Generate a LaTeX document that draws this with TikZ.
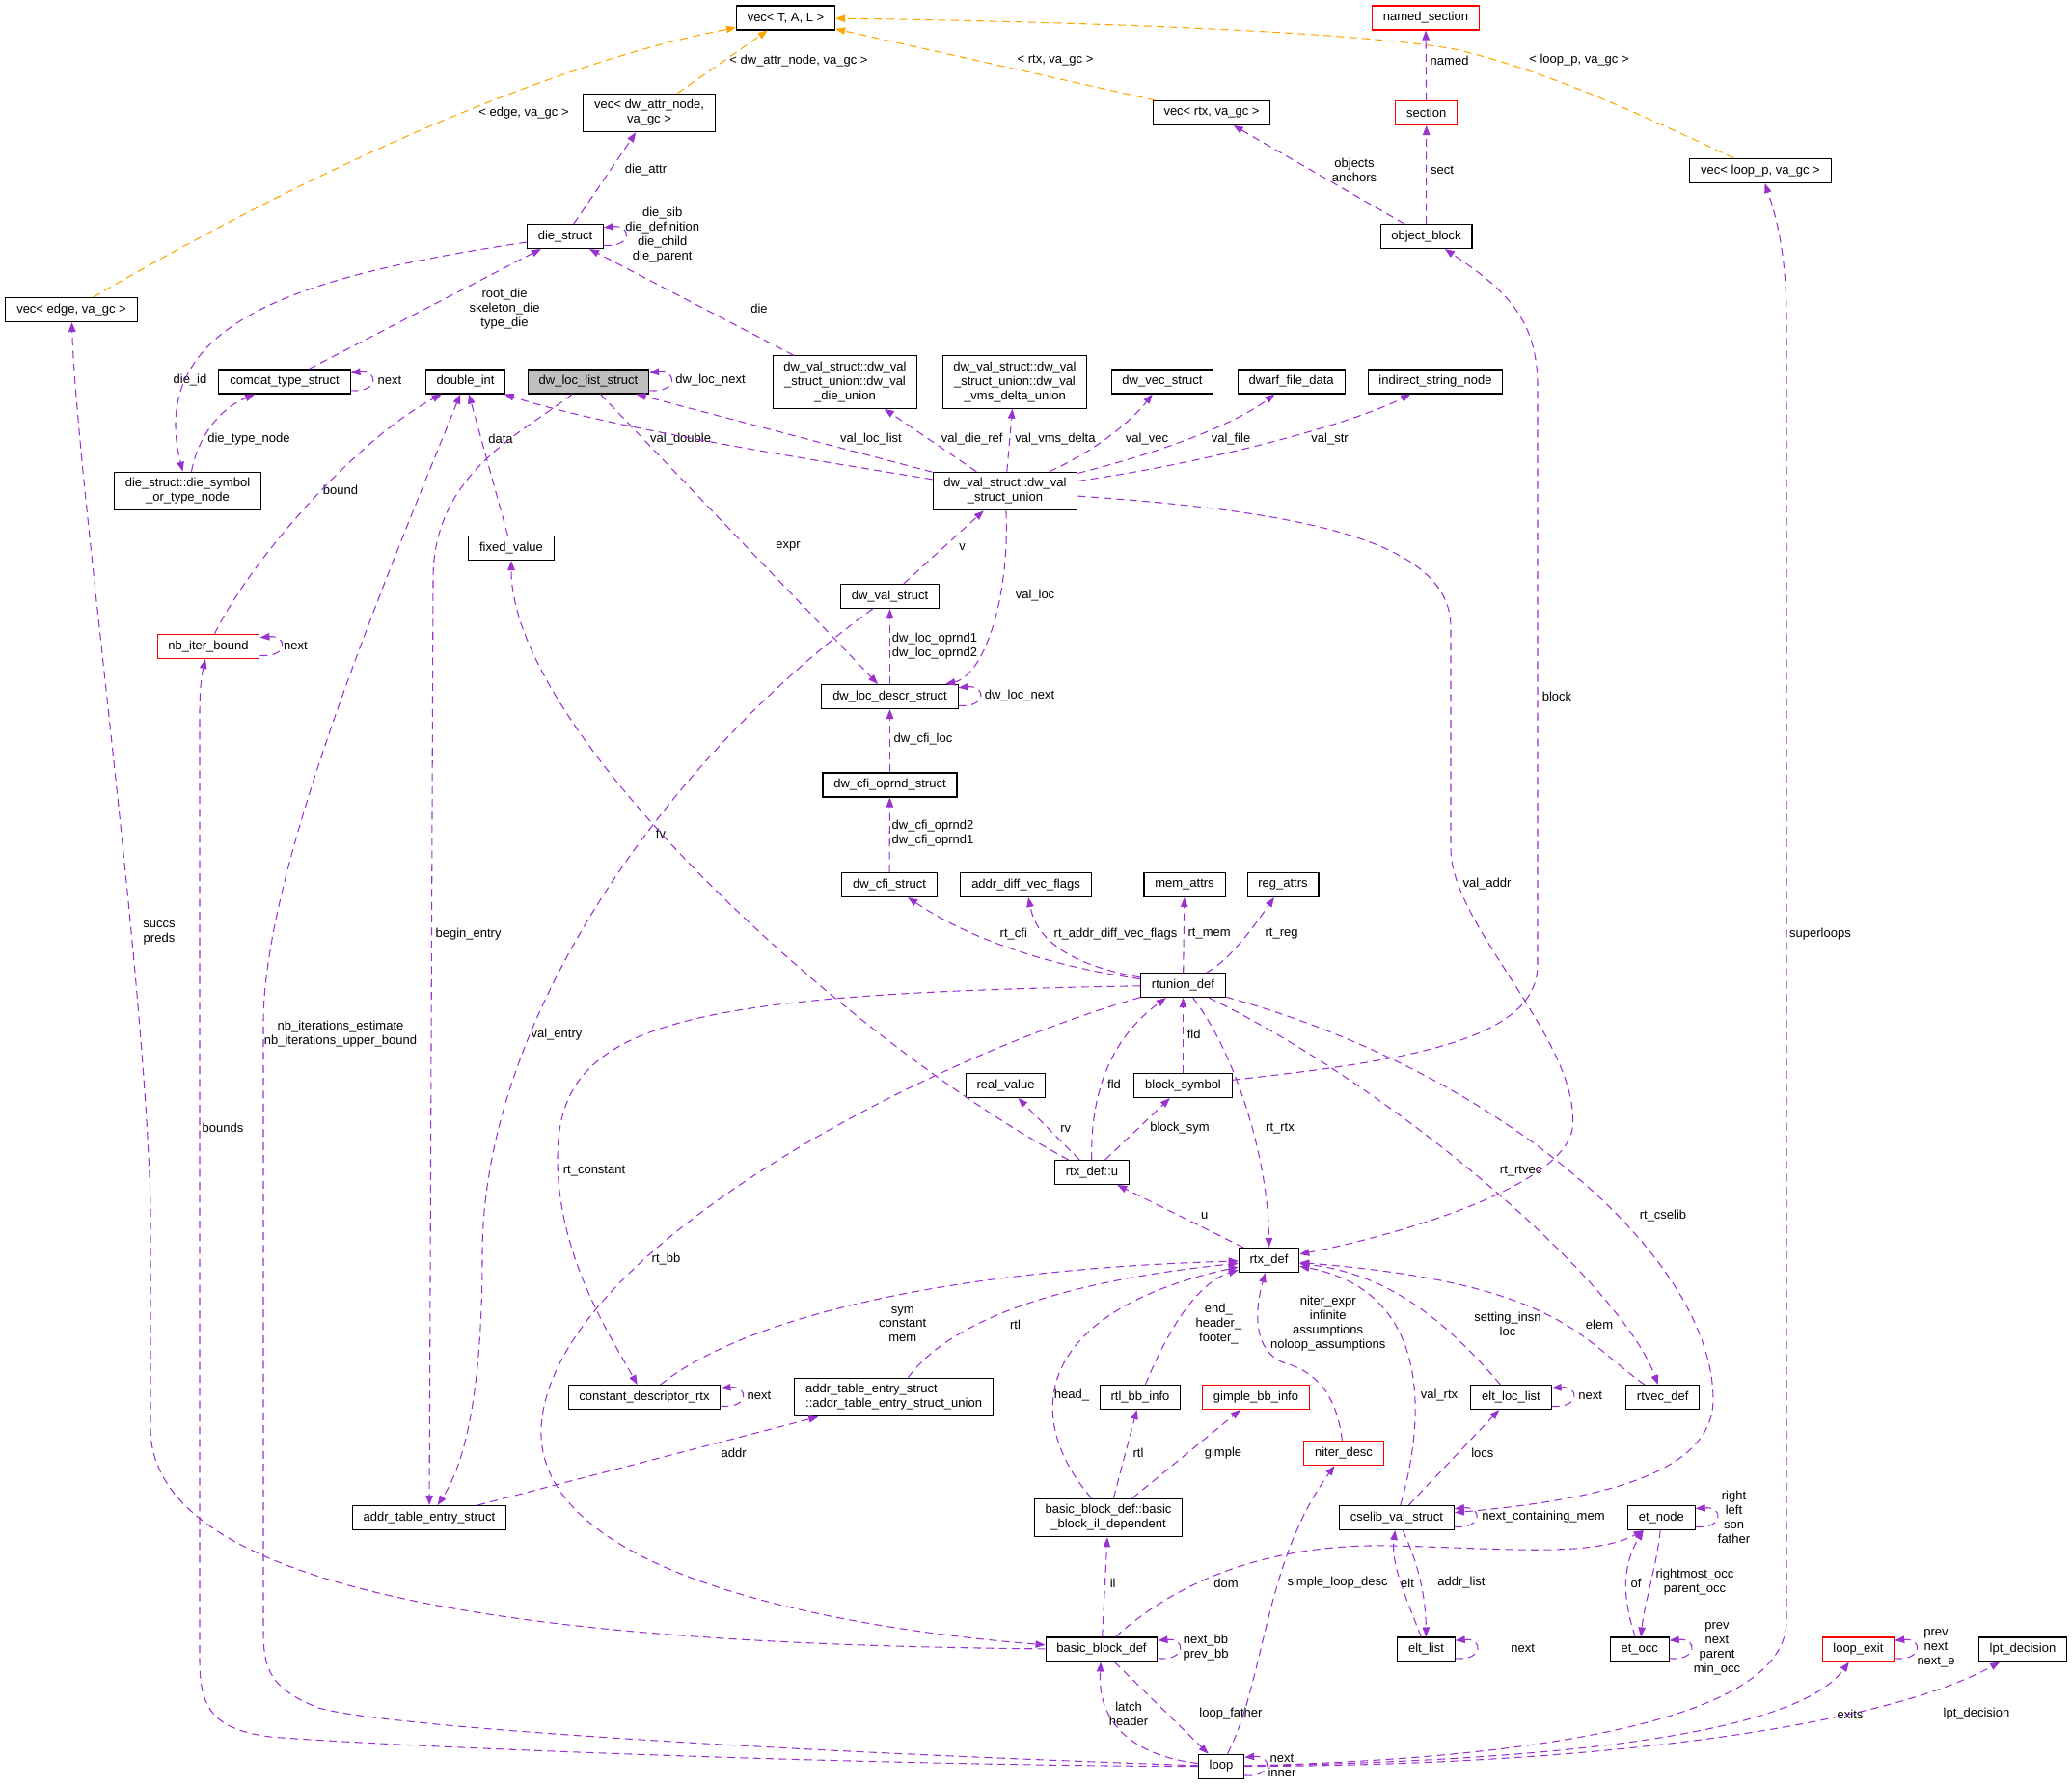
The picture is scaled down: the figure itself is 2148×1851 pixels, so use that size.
\documentclass[tikz,border=0pt]{standalone}
\usepackage{fontspec}
\setmainfont{Liberation Sans}
\usetikzlibrary{arrows.meta}
\definecolor{refline}{HTML}{9A32CD}
\definecolor{tmplline}{HTML}{FFA500}
\definecolor{undoc}{HTML}{FF0000}
\definecolor{focus}{HTML}{BFBFBF}
\begin{document}
\begin{tikzpicture}[x=0.75pt, y=-0.75pt,
  cls/.style={draw=black, line width=0.8pt, fill=white, font=\fontsize{9.75}{11.2}\selectfont,
    inner xsep=8.5pt, inner ysep=4.7pt, minimum height=18.75pt, align=center},
  undoccls/.style={cls, draw=undoc},
  maincls/.style={cls, fill=focus},
  lbl/.style={font=\fontsize{9.75}{11.2}\selectfont, inner sep=0pt, align=center},
  uses/.style={draw=refline, line width=0.8pt, dash pattern=on 6pt off 4pt,
    -{Triangle[length=7.5pt,width=5.6pt]}},
  inst/.style={uses, draw=tmplline}]
  \useasboundingbox (0,0) rectangle (2148,1851);

  \node[cls] (vecTAL) at (814.5,18.5) {vec< T, A, L >};
  \node[undoccls] (namedSection) at (1478,18.5) {named\_section};
  \node[cls] (vecAttr) at (673,117) {vec< dw\_attr\_node,\\va\_gc >};
  \node[cls] (vecRtx) at (1256,117) {vec< rtx, va\_gc >};
  \node[undoccls] (section) at (1478.7,117) {section};
  \node[cls] (vecLoop) at (1825,177) {vec< loop\_p, va\_gc >};
  \node[cls] (dieStruct) at (586,245) {die\_struct};
  \node[cls] (objBlock) at (1478.5,245) {object\_block};
  \node[cls] (vecEdge) at (74,321) {vec< edge, va\_gc >};
  \node[cls] (comdat) at (295,395.5) {comdat\_type\_struct};
  \node[cls] (doubleInt) at (482.5,395.5) {double\_int};
  \node[maincls] (locList) at (610,395.5) {dw\_loc\_list\_struct};
  \node[cls] (dieUnion) at (876,396) {dw\_val\_struct::dw\_val\\\_struct\_union::dw\_val\\\_die\_union};
  \node[cls] (vmsDelta) at (1052,396) {dw\_val\_struct::dw\_val\\\_struct\_union::dw\_val\\\_vms\_delta\_union};
  \node[cls] (dwVec) at (1205,395.5) {dw\_vec\_struct};
  \node[cls] (dwarfFile) at (1338.6,395.5) {dwarf\_file\_data};
  \node[cls] (indirStr) at (1488,395.5) {indirect\_string\_node};
  \node[cls] (dieSymbol) at (194.5,509) {die\_struct::die\_symbol\\\_or\_type\_node};
  \node[cls] (valUnion) at (1042,509) {dw\_val\_struct::dw\_val\\\_struct\_union};
  \node[cls] (fixedValue) at (530,568) {fixed\_value};
  \node[cls] (valStruct) at (922.5,618) {dw\_val\_struct};
  \node[undoccls] (nbIter) at (216,670) {nb\_iter\_bound};
  \node[cls] (locDescr) at (922.5,722) {dw\_loc\_descr\_struct};
  \node[cls] (cfiOprnd) at (922.5,813.5) {dw\_cfi\_oprnd\_struct};
  \node[cls] (cfiStruct) at (922,917) {dw\_cfi\_struct};
  \node[cls] (addrDiff) at (1063.5,917) {addr\_diff\_vec\_flags};
  \node[cls] (memAttrs) at (1228,917) {mem\_attrs};
  \node[cls] (regAttrs) at (1330,917) {reg\_attrs};
  \node[cls] (rtunion) at (1226.5,1021) {rtunion\_def};
  \node[cls] (realValue) at (1042.5,1125) {real\_value};
  \node[cls] (blockSym) at (1226.5,1125) {block\_symbol};
  \node[cls] (rtxU) at (1132,1215) {rtx\_def::u};
  \node[cls] (rtxDef) at (1315.5,1306) {rtx\_def};
  \node[cls] (constDesc) at (668,1448) {constant\_descriptor\_rtx};
  \node[cls, align=left] (addrUnion) at (926.6,1448) {addr\_table\_entry\_struct\\::addr\_table\_entry\_struct\_union};
  \node[cls] (rtlBB) at (1182,1448) {rtl\_bb\_info};
  \node[undoccls] (gimpleBB) at (1302,1448) {gimple\_bb\_info};
  \node[cls] (eltLocList) at (1566.5,1448) {elt\_loc\_list};
  \node[cls] (rtvec) at (1723.7,1448) {rtvec\_def};
  \node[undoccls] (niterDesc) at (1393,1506) {niter\_desc};
  \node[cls] (addrTable) at (445,1573) {addr\_table\_entry\_struct};
  \node[cls] (bbIL) at (1149,1573) {basic\_block\_def::basic\\\_block\_il\_dependent};
  \node[cls] (cselib) at (1448,1573) {cselib\_val\_struct};
  \node[cls] (etNode) at (1722.4,1573) {et\_node};
  \node[cls] (bbDef) at (1142,1709.5) {basic\_block\_def};
  \node[cls] (eltList) at (1478.5,1709.5) {elt\_list};
  \node[cls] (etOcc) at (1699.7,1709.5) {et\_occ};
  \node[undoccls] (loopExit) at (1926.4,1709.5) {loop\_exit};
  \node[cls] (lptDecision) at (2097,1709.5) {lpt\_decision};
  \node[cls] (loop) at (1266,1830.6) {loop};

  \node[lbl] (tEdge) at (543,117) {< edge, va\_gc >};
  \node[lbl] (tAttr) at (828,63) {< dw\_attr\_node, va\_gc >};
  \node[lbl] (tRtx) at (1094,63) {< rtx, va\_gc >};
  \node[lbl] (tLoop) at (1637,62.5) {< loop\_p, va\_gc >};
  \node[lbl] (mDieAttr) at (669.5,176) {die\_attr};
  \node[lbl] (mDieSelf) at (686.7,244) {die\_sib\\die\_definition\\die\_child\\die\_parent};
  \node[lbl] (mRootDie) at (523,320) {root\_die\\skeleton\_die\\type\_die};
  \node[lbl] (mComdatNext) at (404,394) {next};
  \node[lbl] (mDieId) at (197,394) {die\_id};
  \node[lbl] (mDieType) at (258,455) {die\_type\_node};
  \node[lbl] (mDie) at (787,320) {die};
  \node[lbl] (mLocNext) at (736.6,394) {dw\_loc\_next};
  \node[lbl] (mValLocList) at (903,455) {val\_loc\_list};
  \node[lbl] (mValDouble) at (705.6,455) {val\_double};
  \node[lbl] (mValDieRef) at (1007.7,455) {val\_die\_ref};
  \node[lbl] (mValVms) at (1094,455) {val\_vms\_delta};
  \node[lbl] (mValVec) at (1189,455) {val\_vec};
  \node[lbl] (mValFile) at (1276,455) {val\_file};
  \node[lbl] (mValStr) at (1378.6,455) {val\_str};
  \node[lbl] (mValLoc) at (1073,617) {val\_loc};
  \node[lbl] (mValAddr) at (1541.5,916.4) {val\_addr};
  \node[lbl] (mBlock) at (1614,721.5) {block};
  \node[lbl] (mV) at (997.7,566.6) {v};
  \node[lbl] (mOprnd) at (969,669.5) {dw\_loc\_oprnd1\\dw\_loc\_oprnd2};
  \node[lbl] (mDescrNext) at (1057,721.5) {dw\_loc\_next};
  \node[lbl] (mCfiLoc) at (957,766) {dw\_cfi\_loc};
  \node[lbl] (mCfiOprnd) at (967,863.7) {dw\_cfi\_oprnd2\\dw\_cfi\_oprnd1};
  \node[lbl] (mExpr) at (817,566.6) {expr};
  \node[lbl] (mValEntry) at (577,1072.6) {val\_entry};
  \node[lbl] (mBeginEntry) at (485.6,968) {begin\_entry};
  \node[lbl] (mRtCfi) at (1050.8,968) {rt\_cfi};
  \node[lbl] (mRtAddrDiff) at (1156.5,968) {rt\_addr\_diff\_vec\_flags};
  \node[lbl] (mRtMem) at (1253.6,968) {rt\_mem};
  \node[lbl] (mRtReg) at (1328.6,968) {rt\_reg};
  \node[lbl] (mFldBlock) at (1237.7,1072) {fld};
  \node[lbl] (mFldU) at (1155,1124) {fld};
  \node[lbl] (mRv) at (1104.8,1169.5) {rv};
  \node[lbl] (mBlockSym) at (1223,1169.5) {block\_sym};
  \node[lbl] (mFv) at (685,864) {fv};
  \node[lbl] (mRtConstant) at (616,1214) {rt\_constant};
  \node[lbl] (mRtBb) at (690.5,1305) {rt\_bb};
  \node[lbl] (mSuccs) at (165,967) {succs\\preds};
  \node[lbl] (mDom) at (1271,1640.5) {dom};
  \node[lbl] (mIl) at (1153.7,1640.5) {il};
  \node[lbl] (mRtl) at (1180,1505.7) {rtl};
  \node[lbl] (mGimple) at (1268,1505.7) {gimple};
  \node[lbl] (mBbSelf) at (1250,1707.7) {next\_bb\\prev\_bb};
  \node[lbl] (mLoopFather) at (1276,1776.5) {loop\_father};
  \node[lbl] (mLatch) at (1170,1776) {latch\\header};
  \node[lbl] (mSimple) at (1386.6,1640.5) {simple\_loop\_desc};
  \node[lbl] (mLoopSelf) at (1329,1830) {next\\inner};
  \node[lbl] (mSuper) at (1887,968) {superloops};
  \node[lbl] (mExits) at (1918,1776.5) {exits};
  \node[lbl] (mLpt) at (2049,1776.5) {lpt\_decision};
  \node[lbl] (mExitSelf) at (2007,1708) {prev\\next\\next\_e};
  \node[lbl] (mBounds) at (231,1168.7) {bounds};
  \node[lbl] (mNbIter) at (353,1072) {nb\_iterations\_estimate\\nb\_iterations\_upper\_bound};
  \node[lbl] (mBound) at (353,508) {bound};
  \node[lbl] (mNbNext) at (306.5,669) {next};
  \node[lbl] (mData) at (519,455) {data};
  \node[lbl] (mAddr) at (760.7,1505.7) {addr};
  \node[lbl] (mSym) at (935.7,1372.5) {sym\\constant\\mem};
  \node[lbl] (mRtlAddr) at (1052.5,1372.5) {rtl};
  \node[lbl] (mConstNext) at (787,1446.5) {next};
  \node[lbl] (mHead) at (1111,1446.5) {head\_};
  \node[lbl] (mEnd) at (1263.4,1372) {end\_\\header\_\\footer\_};
  \node[lbl] (mNiter) at (1376.7,1372) {niter\_expr\\infinite\\assumptions\\noloop\_assumptions};
  \node[lbl] (mRtRtx) at (1327,1169.5) {rt\_rtx};
  \node[lbl] (mU) at (1248.8,1260) {u};
  \node[lbl] (mRtRtvec) at (1576.6,1214) {rt\_rtvec};
  \node[lbl] (mElem) at (1658,1373) {elem};
  \node[lbl] (mSetting) at (1563,1372) {setting\_insn\\loc};
  \node[lbl] (mValRtx) at (1492,1446.5) {val\_rtx};
  \node[lbl] (mLocs) at (1536.8,1505.7) {locs};
  \node[lbl] (mCselibSelf) at (1600,1572.5) {next\_containing\_mem};
  \node[lbl] (mRtCselib) at (1724,1260) {rt\_cselib};
  \node[lbl] (mElt) at (1459,1640.5) {elt};
  \node[lbl] (mAddrList) at (1515,1640.5) {addr\_list};
  \node[lbl] (mEltNext) at (1578.6,1708.5) {next};
  \node[lbl] (mEltLocNext) at (1648.6,1446.5) {next};
  \node[lbl] (mEtSelf) at (1797.5,1572) {right\\left\\son\\father};
  \node[lbl] (mOf) at (1696,1640.5) {of};
  \node[lbl] (mOcc) at (1757,1640) {rightmost\_occ\\parent\_occ};
  \node[lbl] (mOccSelf) at (1780,1709) {prev\\next\\parent\\min\_occ};
  \node[lbl] (mNamed) at (1502.6,62.5) {named};
  \node[lbl] (mSect) at (1495,176.7) {sect};
  \node[lbl] (mObjects) at (1404,176) {objects\\anchors};

  \draw[inst] (vecEdge) .. controls (300,190) and (550,70) .. (vecTAL);
  \draw[inst] (vecAttr) -- (vecTAL);
  \draw[inst] (vecRtx) -- (vecTAL);
  \draw[inst] (vecLoop) .. controls (1700,118) and (1600,72) .. (1508,51) .. controls (1400,32) and (1100,22) .. (vecTAL);

  \draw[uses] (dieStruct) -- (vecAttr);
  \draw[uses] (comdat) -- (dieStruct);
  \draw[uses] (dieStruct) .. controls (320,285) and (150,330) .. (dieSymbol);
  \draw[uses] (dieSymbol) .. controls (205,455) and (225,425) .. (comdat);
  \draw[uses] (dieUnion) -- (dieStruct);
  \draw[uses] (valUnion) -- (locList);
  \draw[uses] (valUnion) .. controls (800,470) and (620,440) .. (doubleInt);
  \draw[uses] (valUnion) -- (dieUnion);
  \draw[uses] (valUnion) -- (vmsDelta);
  \draw[uses] (valUnion) .. controls (1130,470) and (1170,440) .. (dwVec);
  \draw[uses] (valUnion) .. controls (1200,470) and (1280,440) .. (dwarfFile);
  \draw[uses] (valUnion) .. controls (1250,480) and (1400,440) .. (indirStr);
  \draw[uses] (valUnion) .. controls (1047,620) and (1020,700) .. (locDescr);
  \draw[uses] (valUnion) .. controls (1350,530) and (1504,560) .. (1504,650) -- (1504,880)
    .. controls (1504,960) and (1640,1080) .. (1630,1170) .. controls (1620,1230) and (1450,1280) .. (rtxDef);
  \draw[uses] (blockSym) .. controls (1450,1100) and (1594,1080) .. (1594,1000) -- (1594,400)
    .. controls (1594,330) and (1560,300) .. (objBlock);
  \draw[uses] (valStruct) -- (valUnion);
  \draw[uses] (locDescr) -- (valStruct);
  \draw[uses] (cfiOprnd) -- (locDescr);
  \draw[uses] (cfiStruct) -- (cfiOprnd);
  \draw[uses] (locList) -- (locDescr);
  \draw[uses] (valStruct) .. controls (700,780) and (500,1050) .. (500,1300) .. controls (500,1450) and (480,1520) .. (addrTable);
  \draw[uses] (locList) .. controls (540,450) and (449,490) .. (449,600) -- (addrTable);
  \draw[uses] (rtunion) .. controls (1080,1000) and (1000,970) .. (cfiStruct);
  \draw[uses] (rtunion) .. controls (1110,1000) and (1075,975) .. (addrDiff);
  \draw[uses] (rtunion) -- (memAttrs);
  \draw[uses] (rtunion) .. controls (1275,995) and (1300,960) .. (regAttrs);
  \draw[uses] (blockSym) -- (rtunion);
  \draw[uses] (rtxU) .. controls (1130,1120) and (1160,1070) .. (rtunion);
  \draw[uses] (rtxU) -- (realValue);
  \draw[uses] (rtxU) -- (blockSym);
  \draw[uses] (rtxU) .. controls (880,1080) and (530,760) .. (fixedValue);
  \draw[uses] (rtunion) .. controls (700,1030) and (578,1060) .. (578,1200) .. controls (578,1300) and (630,1380) .. (constDesc);
  \draw[uses] (rtunion) .. controls (950,1100) and (570,1300) .. (561,1480) .. controls (555,1640) and (900,1690) .. (bbDef);
  \draw[uses] (bbDef) .. controls (700,1705) and (156,1680) .. (156,1480) -- (156,1250)
    .. controls (150,1000) and (80,500) .. (vecEdge);
  \draw[uses] (bbDef) .. controls (1230,1630) and (1330,1600) .. (1440,1602)
    .. controls (1550,1604) and (1650,1615) .. ([xshift=-14pt]etNode.south);
  \draw[uses] (bbDef) -- (bbIL);
  \draw[uses] (bbIL) -- (rtlBB);
  \draw[uses] (bbIL) -- (gimpleBB);
  \draw[uses] (bbDef) -- (loop);
  \draw[uses] (loop) .. controls (1180,1820) and (1137,1790) .. (bbDef);
  \draw[uses] (loop) .. controls (1312,1740) and (1310,1620) .. (niterDesc);
  \draw[uses] (loop) .. controls (1500,1825) and (1852,1800) .. (1852,1680) -- (1852,330)
    .. controls (1852,260) and (1840,220) .. (vecLoop);
  \draw[uses] (loop) .. controls (1600,1825) and (1860,1800) .. (loopExit);
  \draw[uses] (loop) .. controls (1650,1830) and (1950,1790) .. (lptDecision);
  \draw[uses] (loop) .. controls (900,1830) and (400,1810) .. (280,1800) .. controls (220,1792) and (207,1770) .. (207,1720)
    -- (207,740) .. controls (207,715) and (209,700) .. (nbIter);
  \draw[uses] (loop) .. controls (800,1815) and (400,1790) .. (330,1770) .. controls (280,1750) and (273,1730) .. (273,1690)
    -- (273,1060) .. controls (273,900) and (400,600) .. (doubleInt);
  \draw[uses] (nbIter) .. controls (260,580) and (370,455) .. (doubleInt);
  \draw[uses] (fixedValue) -- (doubleInt);
  \draw[uses] (addrTable) -- (addrUnion);
  \draw[uses] (constDesc) .. controls (780,1360) and (1000,1315) .. (rtxDef);
  \draw[uses] (addrUnion) .. controls (980,1375) and (1080,1330) .. (rtxDef);
  \draw[uses] (bbIL) .. controls (1060,1470) and (1070,1360) .. (rtxDef);
  \draw[uses] (rtlBB) .. controls (1210,1380) and (1240,1330) .. (rtxDef);
  \draw[uses] (niterDesc) .. controls (1385,1440) and (1360,1420) .. (1330,1412) .. controls (1300,1400) and (1300,1360) .. (rtxDef);
  \draw[uses] (rtunion) .. controls (1280,1090) and (1315,1200) .. (rtxDef);
  \draw[uses] (rtxDef) -- (rtxU);
  \draw[uses] (rtunion) .. controls (1450,1130) and (1680,1330) .. (rtvec);
  \draw[uses] (rtvec) .. controls (1640,1390) and (1620,1330) .. (rtxDef);
  \draw[uses] (eltLocList) .. controls (1500,1370) and (1440,1320) .. (rtxDef);
  \draw[uses] (cselib) .. controls (1475,1480) and (1490,1340) .. (rtxDef);
  \draw[uses] (cselib) -- (eltLocList);
  \draw[uses] (rtunion) .. controls (1550,1110) and (1775,1300) .. (1776,1450) .. controls (1776,1530) and (1650,1555) .. (cselib);
  \draw[uses] (eltList) .. controls (1455,1650) and (1442,1620) .. (cselib);
  \draw[uses] (cselib) .. controls (1468,1615) and (1478,1650) .. (eltList);
  \draw[uses] (etOcc) .. controls (1683,1660) and (1680,1625) .. ([xshift=-14pt]etNode.south);
  \draw[uses] (etNode) .. controls (1718,1620) and (1705,1660) .. (etOcc);
  \draw[uses] (section) -- (namedSection);
  \draw[uses] (objBlock) -- (section);
  \draw[uses] (objBlock) -- (vecRtx);

  \draw[uses] ([yshift=-7pt]dieStruct.east) .. controls +(22pt,-2pt) and +(22pt,2pt) .. ([yshift=7pt]dieStruct.east);
  \draw[uses] ([yshift=-7pt]comdat.east) .. controls +(22pt,-2pt) and +(22pt,2pt) .. ([yshift=7pt]comdat.east);
  \draw[uses] ([yshift=-7pt]locList.east) .. controls +(22pt,-2pt) and +(22pt,2pt) .. ([yshift=7pt]locList.east);
  \draw[uses] ([yshift=-7pt]nbIter.east) .. controls +(22pt,-2pt) and +(22pt,2pt) .. ([yshift=7pt]nbIter.east);
  \draw[uses] ([yshift=-7pt]locDescr.east) .. controls +(22pt,-2pt) and +(22pt,2pt) .. ([yshift=7pt]locDescr.east);
  \draw[uses] ([yshift=-7pt]constDesc.east) .. controls +(22pt,-2pt) and +(22pt,2pt) .. ([yshift=7pt]constDesc.east);
  \draw[uses] ([yshift=-7pt]eltLocList.east) .. controls +(22pt,-2pt) and +(22pt,2pt) .. ([yshift=7pt]eltLocList.east);
  \draw[uses] ([yshift=-7pt]cselib.east) .. controls +(22pt,-2pt) and +(22pt,2pt) .. ([yshift=7pt]cselib.east);
  \draw[uses] ([yshift=-7pt]etNode.east) .. controls +(22pt,-2pt) and +(22pt,2pt) .. ([yshift=7pt]etNode.east);
  \draw[uses] ([yshift=-7pt]bbDef.east) .. controls +(22pt,-2pt) and +(22pt,2pt) .. ([yshift=7pt]bbDef.east);
  \draw[uses] ([yshift=-7pt]eltList.east) .. controls +(22pt,-2pt) and +(22pt,2pt) .. ([yshift=7pt]eltList.east);
  \draw[uses] ([yshift=-7pt]etOcc.east) .. controls +(22pt,-2pt) and +(22pt,2pt) .. ([yshift=7pt]etOcc.east);
  \draw[uses] ([yshift=-7pt]loopExit.east) .. controls +(22pt,-2pt) and +(22pt,2pt) .. ([yshift=7pt]loopExit.east);
  \draw[uses] ([yshift=-7pt]loop.east) .. controls +(22pt,-2pt) and +(22pt,2pt) .. ([yshift=7pt]loop.east);
\end{tikzpicture}
\end{document}
